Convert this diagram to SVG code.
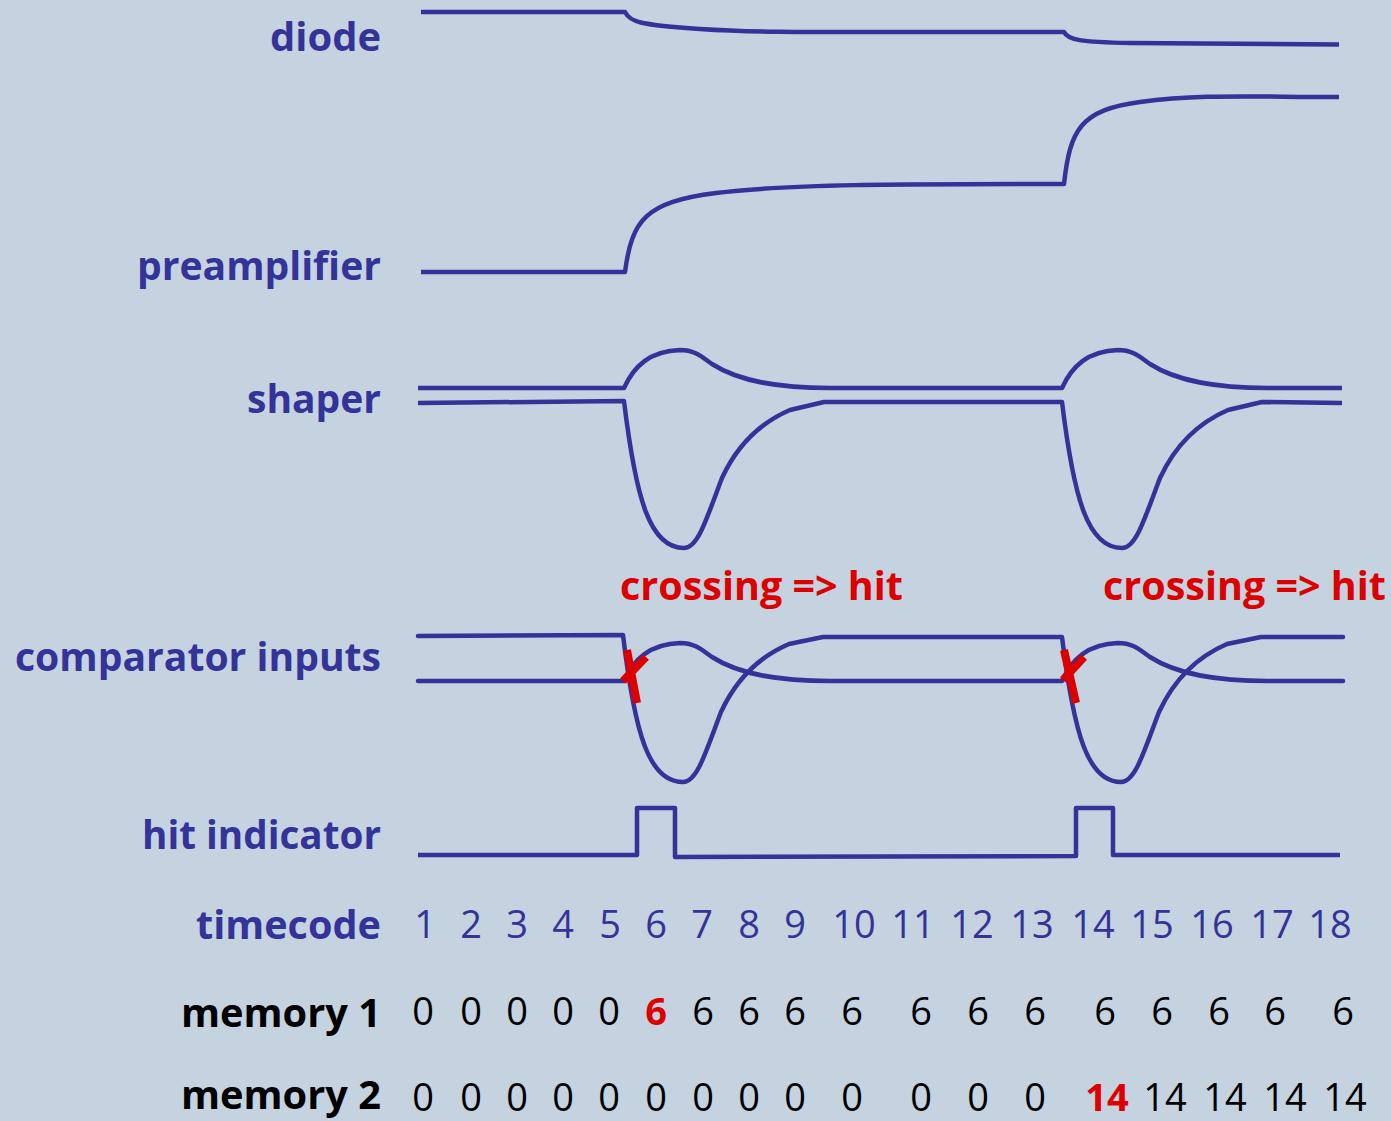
<svg xmlns="http://www.w3.org/2000/svg" width="1391" height="1121" viewBox="0 0 1391 1121">
<style>
.bg{fill:#c5d3e0}
.sig{fill:none;stroke:#333399;stroke-width:4.5;stroke-linejoin:round}
.x{stroke:#dd0000;stroke-width:8;fill:none}
.lbl{font-family:"Open Sans","Noto Sans",sans-serif;font-weight:bold;font-size:40px;fill:#333399;text-anchor:end}
.blk{fill:#000}
.red{font-family:"Open Sans","Noto Sans",sans-serif;font-weight:bold;font-size:40px;fill:#dd0000}
.num{font-family:"Open Sans","Noto Sans",sans-serif;font-size:38px;text-anchor:middle}
.tc{fill:#333399}
.m{fill:#000}
.mr{fill:#dd0000;font-weight:bold}
</style>
<rect class="bg" x="0" y="0" width="1391" height="1121"/>
<g id="labels">
<text class="lbl" x="381" y="51" textLength="111" lengthAdjust="spacingAndGlyphs">diode</text>
<text class="lbl" x="381" y="280" textLength="244" lengthAdjust="spacingAndGlyphs">preamplifier</text>
<text class="lbl" x="381" y="413" textLength="134" lengthAdjust="spacingAndGlyphs">shaper</text>
<text class="lbl" x="381" y="671" textLength="366" lengthAdjust="spacingAndGlyphs">comparator inputs</text>
<text class="lbl" x="381" y="849" textLength="239" lengthAdjust="spacingAndGlyphs">hit indicator</text>
<text class="lbl" x="381" y="939" textLength="185" lengthAdjust="spacingAndGlyphs">timecode</text>
<text class="lbl blk" x="381" y="1027" textLength="200" lengthAdjust="spacingAndGlyphs">memory 1</text>
<text class="lbl blk" x="381" y="1109" textLength="200" lengthAdjust="spacingAndGlyphs">memory 2</text>
<text class="red" x="620" y="600" textLength="283" lengthAdjust="spacingAndGlyphs">crossing =&gt; hit</text>
<text class="red" x="1103" y="600" textLength="283" lengthAdjust="spacingAndGlyphs">crossing =&gt; hit</text>
</g>
<g id="connectors">
<path id="diode" class="sig" d="M421,12 L625,12 C630,22 640,25 700,29 S800,32 1064,32 C1068,40 1080,42 1130,43 S1250,44.5 1339,44.5"/>
<path id="preamp" class="sig" d="M421,272 L625,272 C632,220 645,202 716,193 S900,184 1064,184 C1070,130 1080,110 1140,102 S1250,97 1339,97"/>
<path id="shaper-pos" class="sig" d="M418,388 L624,388 C634,366 650,351 680,350 C695,350 702,357 712,364 C740,382 780,388 830,388 L1062,388 C1072,366 1088,351 1118,350 C1133,350 1140,357 1150,364 C1178,382 1218,388 1268,388 L1342,388"/>
<path id="shaper-neg" class="sig" d="M418,403 L624,401 C636,500 650,548 684,548 C698,548 706,520 722,478 C735,450 755,425 790,410 L824,402 L1062,402 C1074,500 1088,548 1122,548 C1136,548 1144,520 1160,478 C1173,450 1193,425 1228,410 L1262,402 L1342,403"/>
<path id="comp-neg" class="sig" stroke-linecap="round" d="M418,636 L623,635 C635,735 649,782 683,782 C697,782 705,754 721,712 C734,684 754,659 789,644 L823,637 L1062,637 C1074,735 1088,782 1121,782 C1135,782 1143,754 1159,712 C1172,684 1192,659 1227,644 L1261,637 L1343,637"/>
<path id="comp-pos" class="sig" stroke-linecap="round" d="M418,681 L624,681 C634,659 650,644 680,643 C695,643 702,650 712,657 C740,675 780,681 830,681 L1062,681 C1072,659 1088,644 1118,643 C1133,643 1140,650 1150,657 C1178,675 1218,681 1268,681 L1343,681"/>
<path id="hit" class="sig" stroke-width="4" stroke-linejoin="miter" d="M418,855 L637,855 L637,808 L675,808 L675,857 L1076,856 L1076,808 L1113,808 L1113,855 L1340,855"/>
<path class="x" d="M627,650 L637,703 M623,681 L646,657"/>
<path class="x" d="M1064,650 L1076,703 M1063,680 L1084,657"/>
</g>
<g id="timecode" class="num tc">
<text x="425" y="938">1</text><text x="471" y="938">2</text><text x="517" y="938">3</text><text x="563" y="938">4</text><text x="610" y="938">5</text><text x="656" y="938">6</text><text x="702" y="938">7</text><text x="749" y="938">8</text><text x="795" y="938">9</text><text x="854" y="938">10</text><text x="913" y="938">11</text><text x="972" y="938">12</text><text x="1032" y="938">13</text><text x="1093" y="938">14</text><text x="1152" y="938">15</text><text x="1212" y="938">16</text><text x="1272" y="938">17</text><text x="1330" y="938">18</text>
</g>
<g id="memory1" class="num m">
<text x="423" y="1025">0</text><text x="471" y="1025">0</text><text x="517" y="1025">0</text><text x="563" y="1025">0</text><text x="609" y="1025">0</text><text class="mr" x="656" y="1025">6</text><text x="703" y="1025">6</text><text x="749" y="1025">6</text><text x="795" y="1025">6</text><text x="852" y="1025">6</text><text x="921" y="1025">6</text><text x="978" y="1025">6</text><text x="1035" y="1025">6</text><text x="1105" y="1025">6</text><text x="1162" y="1025">6</text><text x="1219" y="1025">6</text><text x="1275" y="1025">6</text><text x="1343" y="1025">6</text>
</g>
<g id="memory2" class="num m">
<text x="423" y="1111">0</text><text x="471" y="1111">0</text><text x="517" y="1111">0</text><text x="563" y="1111">0</text><text x="609" y="1111">0</text><text x="656" y="1111">0</text><text x="703" y="1111">0</text><text x="749" y="1111">0</text><text x="795" y="1111">0</text><text x="852" y="1111">0</text><text x="921" y="1111">0</text><text x="978" y="1111">0</text><text x="1035" y="1111">0</text><text class="mr" x="1107" y="1111">14</text><text x="1165" y="1111">14</text><text x="1225" y="1111">14</text><text x="1285" y="1111">14</text><text x="1345" y="1111">14</text>
</g>
</svg>
